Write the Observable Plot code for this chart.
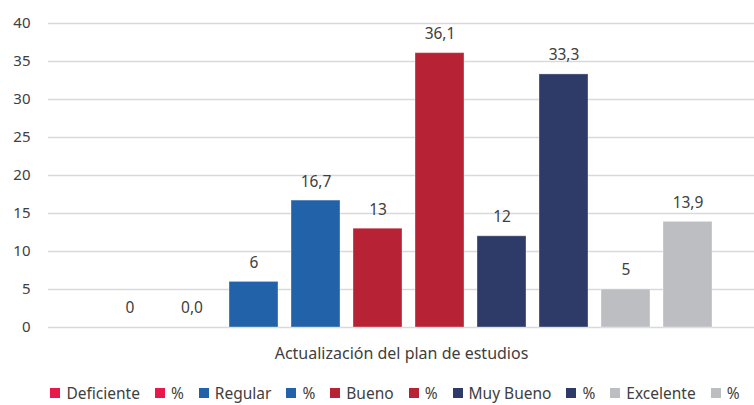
<!DOCTYPE html>
<html>
<head>
<meta charset="utf-8">
<script src="https://cdn.jsdelivr.net/npm/d3@7"></script>
<script src="https://cdn.jsdelivr.net/npm/@observablehq/plot@0.6"></script>
<style>
  body { margin: 0; background: #fff; font-family: "Noto Sans", Roboto, sans-serif; overflow: hidden; }
  #legend { display: flex; justify-content: center; align-items: center; font-size: 15.5px; line-height: 20px; color: #404040; height: 20px; margin-top: 8px; margin-left: 36px; white-space: nowrap; }
  .item { display: flex; align-items: center; margin: 0 7.5px; white-space: nowrap; flex: none; line-height: 20px; }
  .sw { width: 10px; height: 10px; margin-right: 6px; }
</style>
</head>
<body>
<div id="chart"></div>
<div id="legend"></div>
<script>
const series = ["Deficiente", "%", "Regular", "%", "Bueno", "%", "Muy Bueno", "%", "Excelente", "%"];
const values = [0, 0.0, 6, 16.7, 13, 36.1, 12, 33.3, 5, 13.9];
const labels = ["0", "0,0", "6", "16,7", "13", "36,1", "12", "33,3", "5", "13,9"];
const colors = ["#E8194A", "#E8194A", "#2262A8", "#2262A8", "#B82235", "#B82235", "#2E3A68", "#2E3A68", "#BDBEC2", "#BDBEC2"];
const category = "Actualización del plan de estudios";
const yTicks = [0, 5, 10, 15, 20, 25, 30, 35, 40];

const data = series.map((s, i) => ({key: String(i), name: s, value: values[i], label: labels[i], color: colors[i]}));

const chart = Plot.plot({
  width: 754,
  height: 375,
  marginLeft: 48,
  marginRight: 0,
  marginTop: 23,
  marginBottom: 48,
  style: {fontFamily: "'Noto Sans', Roboto, sans-serif", fontSize: "15px", color: "#404040", background: "#fff", display: "block"},
  x: {domain: data.map(d => d.key), paddingInner: 0.216, paddingOuter: 0, insetLeft: 55, insetRight: 40, axis: null},
  y: {domain: [0, 40], ticks: yTicks, grid: false, label: null},
  marks: [
    Plot.gridY(yTicks, {stroke: "#d9d9d9", strokeOpacity: 1, strokeWidth: 1.3}),
    Plot.axisY(yTicks, {tickSize: 0, tickPadding: 18, fontSize: 15, fill: "#404040", label: null, tickFormat: d => String(d)}),
    Plot.barY(data, {x: "key", y: "value", fill: "color", stroke: "#ffffff", strokeOpacity: 0.35, strokeWidth: 1}),
    Plot.text(data, {x: "key", y: "value", text: "label", dy: -19, fontSize: 15.5, fill: "#404040", lineAnchor: "middle"}),
    Plot.text([category], {frameAnchor: "bottom", dy: 31, text: d => d, fontSize: 16, fill: "#404040"})
  ]
});
document.getElementById("chart").appendChild(chart);

const legend = document.getElementById("legend");
data.forEach(d => {
  const item = document.createElement("div");
  item.className = "item";
  const sw = document.createElement("span");
  sw.className = "sw";
  sw.style.background = d.color;
  const t = document.createElement("span");
  t.textContent = d.name;
  item.appendChild(sw);
  item.appendChild(t);
  legend.appendChild(item);
});
</script>
</body>
</html>
